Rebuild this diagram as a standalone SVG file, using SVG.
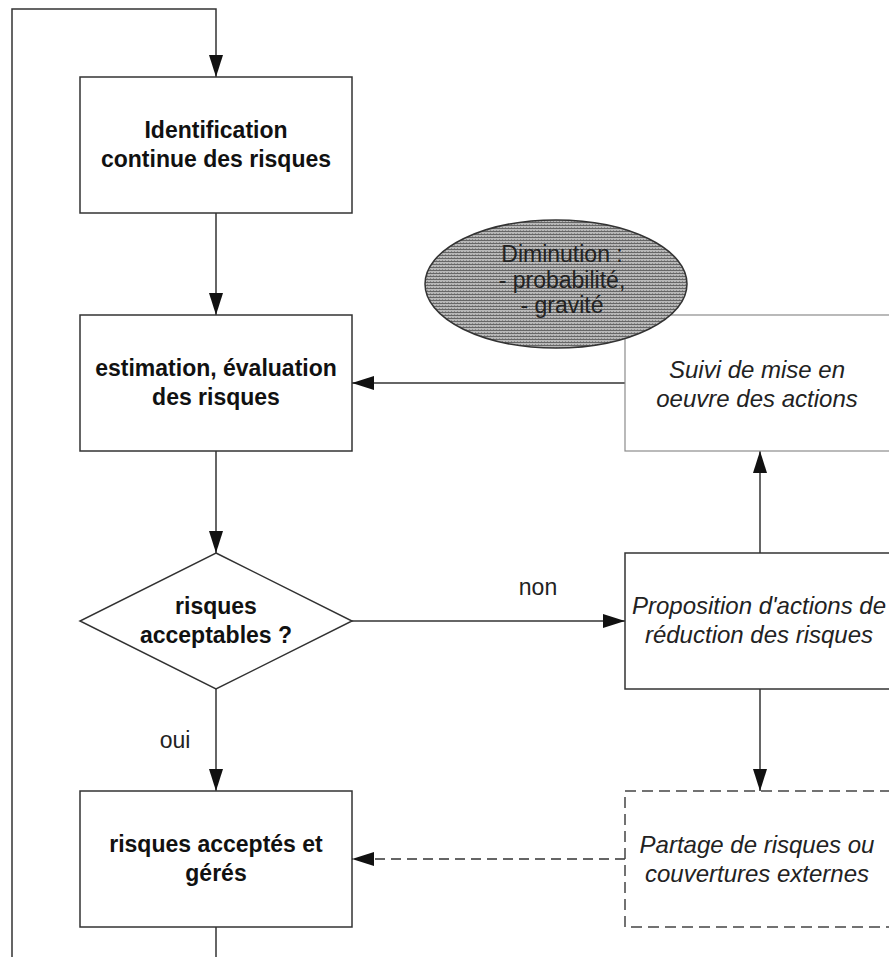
<svg xmlns="http://www.w3.org/2000/svg" width="889" height="957" viewBox="0 0 889 957">
  <defs>
    <marker id="arrow" markerUnits="userSpaceOnUse" markerWidth="22" markerHeight="14" refX="22" refY="7" orient="auto">
      <path d="M0,0 L22,7 L0,14 z" fill="#111"/>
    </marker>
    <pattern id="hatch" width="3" height="3" patternUnits="userSpaceOnUse">
      <rect width="3" height="3" fill="#b8b8b8"/>
      <rect width="3" height="1" fill="#666"/>
      <rect x="1" y="2" width="1" height="1" fill="#8a8a8a"/>
    </pattern>
    <style>
      .box { fill: #fff; stroke: #333; stroke-width: 1.5; }
      .light { fill: #fff; stroke: #8c8c8c; stroke-width: 1.2; }
      .dashed { fill: #fff; stroke: #444; stroke-width: 1.5; stroke-dasharray: 11 6; }
      .link { fill: none; stroke: #333; stroke-width: 1.5; }
      .dash { stroke-dasharray: 10 6; }
      .bold { font-family: "Liberation Sans", Arial, sans-serif; font-weight: bold; font-size: 23px; fill: #111; text-anchor: middle; }
      .ital { font-family: "Liberation Sans", Arial, sans-serif; font-style: italic; font-size: 24px; fill: #222; text-anchor: middle; }
      .plain { font-family: "Liberation Sans", Arial, sans-serif; font-size: 23px; fill: #222; text-anchor: middle; }
    </style>
  </defs>

  <rect width="889" height="957" fill="#fff"/>

  <!-- connectors -->
  <g id="connectors">
    <path class="link" d="M12,957 V9 H216 V77" marker-end="url(#arrow)"/>
    <path class="link" d="M216,213 V315" marker-end="url(#arrow)"/>
    <path class="link" d="M216,451 V553" marker-end="url(#arrow)"/>
    <path class="link" d="M216,689 V791" marker-end="url(#arrow)"/>
    <path class="link" d="M216,927 V957"/>
    <path class="link" d="M352,621 H625" marker-end="url(#arrow)"/>
    <path class="link" d="M760,553 V451" marker-end="url(#arrow)"/>
    <path class="link" d="M760,689 V791" marker-end="url(#arrow)"/>
    <path class="link" d="M625,383 H352" marker-end="url(#arrow)"/>
    <path class="link dash" d="M625,859 H352" marker-end="url(#arrow)"/>
    <text class="plain" x="538" y="595">non</text>
    <text class="plain" x="175" y="748">oui</text>
  </g>

  <g id="identification">
    <rect class="box" x="80" y="77" width="272" height="136"/>
    <text class="bold" x="216" y="138">Identification</text>
    <text class="bold" x="216" y="167">continue des risques</text>
  </g>

  <g id="estimation">
    <rect class="box" x="80" y="315" width="272" height="136"/>
    <text class="bold" x="216" y="376">estimation, évaluation</text>
    <text class="bold" x="216" y="405">des risques</text>
  </g>

  <g id="decision">
    <polygon class="box" points="216,553 352,621 216,689 80,621"/>
    <text class="bold" x="216" y="614">risques</text>
    <text class="bold" x="216" y="643">acceptables ?</text>
  </g>

  <g id="acceptes">
    <rect class="box" x="80" y="791" width="272" height="136"/>
    <text class="bold" x="216" y="852">risques acceptés et</text>
    <text class="bold" x="216" y="881">gérés</text>
  </g>

  <g id="suivi">
    <rect class="light" x="625" y="315" width="272" height="136"/>
    <text class="ital" x="757" y="378">Suivi de mise en</text>
    <text class="ital" x="757" y="407">oeuvre des actions</text>
  </g>

  <g id="diminution">
    <ellipse cx="556" cy="284" rx="131" ry="64" fill="url(#hatch)" stroke="#333" stroke-width="1.5"/>
    <text class="plain" x="562" y="262">Diminution :</text>
    <text class="plain" x="562" y="288">- probabilité,</text>
    <text class="plain" x="562" y="313">- gravité</text>
  </g>

  <g id="proposition">
    <rect class="box" x="625" y="553" width="272" height="136"/>
    <text class="ital" x="759" y="614">Proposition d'actions de</text>
    <text class="ital" x="759" y="643">réduction des risques</text>
  </g>

  <g id="partage">
    <rect class="dashed" x="625" y="791" width="272" height="136"/>
    <text class="ital" x="757" y="853">Partage de risques ou</text>
    <text class="ital" x="757" y="882">couvertures externes</text>
  </g>
</svg>
